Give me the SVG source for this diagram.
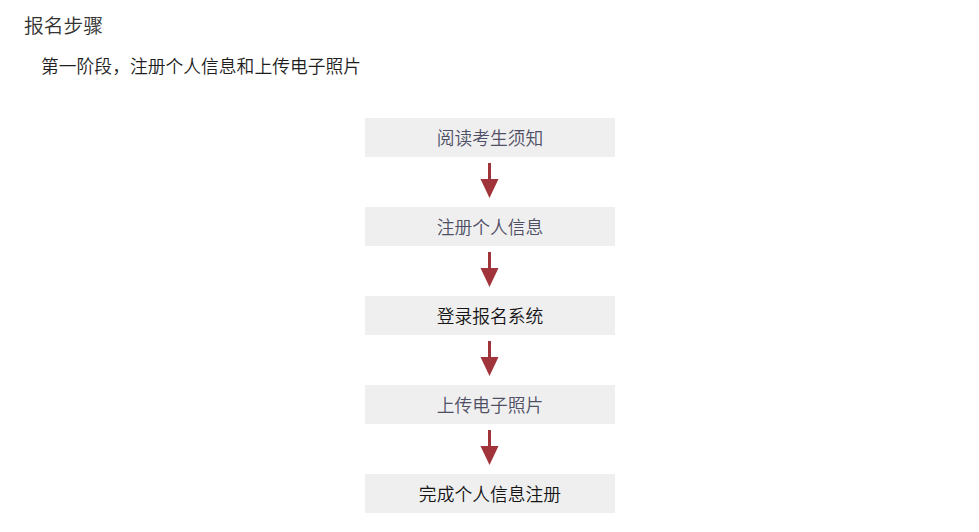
<svg xmlns="http://www.w3.org/2000/svg" width="979" height="532" viewBox="0 0 979 532">
<style>
text{font-family:"Noto Sans CJK SC","Microsoft YaHei",sans-serif;font-weight:350;}
.box{fill:#efefef;}
.lbl{font-size:17.8px;text-anchor:middle;dominant-baseline:central;}
.g{fill:#4f4f66;}
.k{fill:#151515;}
.arr{fill:#a0343a;stroke:none;}
.shaft{stroke:#a0343a;stroke-width:3;}
</style>
<rect width="979" height="532" fill="#ffffff"/>
<text x="24" y="24.5" font-size="19.8" fill="#333333" dominant-baseline="central">报名步骤</text>
<text x="41" y="65" font-size="17.8" fill="#1e1e1e" dominant-baseline="central">第一阶段，注册个人信息和上传电子照片</text>
<g id="n1"><rect class="box" x="365" y="118" width="250" height="39"/><text class="lbl g" x="490" y="136.5">阅读考生须知</text></g>
<g id="n2"><rect class="box" x="365" y="207" width="250" height="39"/><text class="lbl g" x="490" y="225.5">注册个人信息</text></g>
<g id="n3"><rect class="box" x="365" y="296" width="250" height="39"/><text class="lbl k" x="490" y="314.5">登录报名系统</text></g>
<g id="n4"><rect class="box" x="365" y="385" width="250" height="39"/><text class="lbl g" x="490" y="403.5">上传电子照片</text></g>
<g id="n5"><rect class="box" x="365" y="474" width="250" height="39"/><text class="lbl k" x="490" y="492.5">完成个人信息注册</text></g>
<g id="connectors">
<line class="shaft" x1="489.5" y1="163" x2="489.5" y2="182"/><polygon class="arr" points="480.5,179 498.5,179 489.5,198"/>
<line class="shaft" x1="489.5" y1="252" x2="489.5" y2="271"/><polygon class="arr" points="480.5,268 498.5,268 489.5,287"/>
<line class="shaft" x1="489.5" y1="341" x2="489.5" y2="360"/><polygon class="arr" points="480.5,357 498.5,357 489.5,376"/>
<line class="shaft" x1="489.5" y1="430" x2="489.5" y2="449"/><polygon class="arr" points="480.5,446 498.5,446 489.5,465"/>
</g>
</svg>
